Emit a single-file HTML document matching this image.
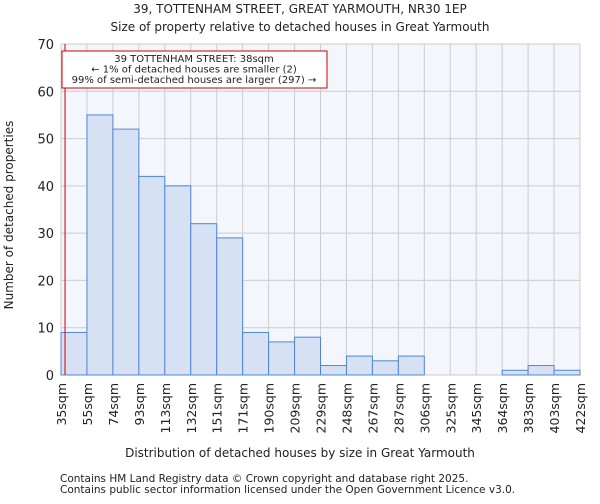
<!DOCTYPE html>
<html><head><meta charset="utf-8"><style>
body{margin:0;background:#fff;font-family:"DejaVu Sans","Liberation Sans",sans-serif;}
svg text{font-family:"DejaVu Sans","Liberation Sans",sans-serif;fill:#222;}
</style></head><body>
<svg id="chart" width="600" height="500">
<text x="300" y="13" font-size="12" text-anchor="middle">39, TOTTENHAM STREET, GREAT YARMOUTH, NR30 1EP</text>
<text x="300" y="31" font-size="12" text-anchor="middle">Size of property relative to detached houses in Great Yarmouth</text>
<rect x="61" y="44" width="519" height="331" fill="#f3f6fd"/>
<g id="grid"></g><g id="bars"></g><g id="axes"></g>
<text x="300" y="457" font-size="12" text-anchor="middle">Distribution of detached houses by size in Great Yarmouth</text>
<text transform="translate(13,215) rotate(-90)" font-size="12" text-anchor="middle">Number of detached properties</text>
<text x="60" y="482" font-size="10.5" fill="#555">Contains HM Land Registry data © Crown copyright and database right 2025.</text>
<text x="60" y="493" font-size="10.5" fill="#555">Contains public sector information licensed under the Open Government Licence v3.0.</text>
</svg>
<script>
const categories=["35sqm","55sqm","74sqm","93sqm","113sqm","132sqm","151sqm","171sqm","190sqm","209sqm","229sqm","248sqm","267sqm","287sqm","306sqm","325sqm","345sqm","364sqm","383sqm","403sqm","422sqm"];
const counts=[9,55,52,42,40,32,29,9,7,8,2,4,3,4,0,0,0,1,2,1];
const yTicks=[0,10,20,30,40,50,60,70];
const propertySize=38;
const binStart=35, binWidth=19.35;
const NS="http://www.w3.org/2000/svg";
const x0=61,x1=580,y0=375,y1=44,yMax=70;
const bw=(x1-x0)/counts.length;
const xs=i=>x0+i*bw;
const ys=v=>y0-(v/yMax)*(y0-y1);
function mk(t,a,p){const e=document.createElementNS(NS,t);for(const k in a)e.setAttribute(k,a[k]);p.appendChild(e);return e;}
const grid=document.getElementById('grid'),bars=document.getElementById('bars'),axes=document.getElementById('axes');
yTicks.forEach(v=>{
 const l=mk('line',{x1:x0,x2:x1,y1:ys(v),y2:ys(v),stroke:'#ccc','stroke-width':1},grid);
 
 
 const t=mk('text',{x:x0-7,y:ys(v)+5,'font-size':13,'text-anchor':'end'},axes);
 t.textContent=v;
 
 
});
categories.forEach((c,i)=>{
 const x=xs(i);
 const l=mk('line',{x1:x,x2:x,y1:y1,y2:y0,stroke:'#ccc','stroke-width':1},grid);
 
 
 const t=mk('text',{transform:`translate(${x+5},${y0+8}) rotate(-90)`,'font-size':12.5,'text-anchor':'end'},axes);
 t.textContent=c;
 
 
});
counts.forEach((v,i)=>{
 if(v<=0)return;
 const r=mk('rect',{x:xs(i),y:ys(v),width:bw,height:y0-ys(v),fill:'#d6e1f4',stroke:'#4f87d6','stroke-width':1},bars);
 
 
});
const mx=x0+(propertySize-binStart)/binWidth*bw;
const ml=mk('line',{x1:mx,x2:mx,y1:y1,y2:y0,stroke:'#c00','stroke-width':1},axes);


const ab=mk('rect',{x:62,y:51,width:265,height:37,fill:'#fff',stroke:'#c00','stroke-width':1},axes);


["39 TOTTENHAM STREET: 38sqm","← 1% of detached houses are smaller (2)","99% of semi-detached houses are larger (297) →"].forEach((s,i)=>{
 const t=mk('text',{x:194,y:62+i*10.5,'font-size':10,'text-anchor':'middle'},axes);
 t.textContent=s;
 
 
});
</script>
</body></html>
